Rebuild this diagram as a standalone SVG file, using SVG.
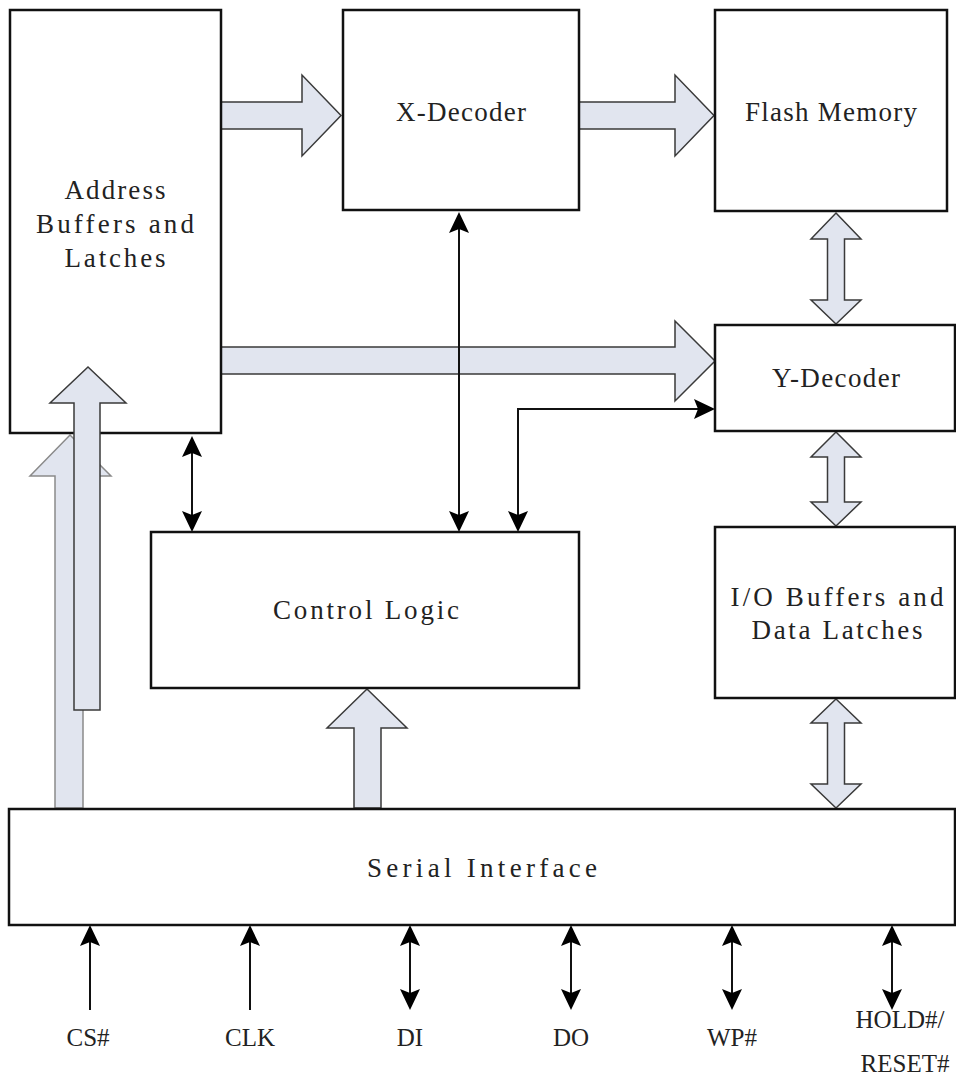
<svg xmlns="http://www.w3.org/2000/svg" width="956" height="1080" viewBox="0 0 956 1080">
<style>
.box{fill:#fff;stroke:#111;stroke-width:2.5}
.blk{fill:#e1e5ef;stroke:#3a3a3a;stroke-width:1.5;stroke-linejoin:miter}
.blk2{fill:#e1e5ef;stroke:#8a8a8a;stroke-width:1.5}
.ln{fill:none;stroke:#111;stroke-width:2}
.hd{fill:#000}
.t{font-family:"Liberation Serif","Times New Roman",serif;font-size:27px;fill:#222;text-anchor:middle}
.p{font-family:"Liberation Serif","Times New Roman",serif;font-size:25px;fill:#222;text-anchor:middle}
</style>
<defs>
<path id="ah" d="M0,0 L-10,21 L0,17 L10,21 Z"/>
</defs>
<rect width="956" height="1080" fill="#fff"/>
<g id="connectors">
<path class="blk2" d="M70,435 L111,476 H83 V808 H55 V476 H30 Z"/>
<path class="blk" d="M221,102 H302 V75 L341,115.5 L302,156 V129 H221 Z"/>
<path class="blk" d="M579,102 H675 V75 L714,115.5 L675,156 V129 H579 Z"/>
<path class="blk" d="M221,347 H675 V321 L715,361 L675,401 V374 H221 Z"/>
<path class="blk" d="M836,213 L861,239 H844.5 V300 H861 L836,324 L811,300 H827.5 V239 H811 Z"/>
<path class="blk" d="M836,432 L861,457 H844.5 V502 H861 L836,526 L811,502 H827.5 V457 H811 Z"/>
<path class="blk" d="M836,699 L861,723 H844.5 V784 H861 L836,808 L811,784 H827.5 V723 H811 Z"/>
<path class="blk" d="M367,689 L407,728 H381 V808 H354 V728 H327 Z"/>
<line class="ln" x1="192" y1="450" x2="192" y2="518"/>
<use href="#ah" class="hd" transform="translate(192,436)"/>
<use href="#ah" class="hd" transform="translate(192,532) rotate(180)"/>
<line class="ln" x1="459" y1="226" x2="459" y2="518"/>
<use href="#ah" class="hd" transform="translate(459,212)"/>
<use href="#ah" class="hd" transform="translate(459,532) rotate(180)"/>
<polyline class="ln" points="518,518 518,409 701,409"/>
<use href="#ah" class="hd" transform="translate(518,532) rotate(180)"/>
<use href="#ah" class="hd" transform="translate(715,409) rotate(90)"/>
<line class="ln" x1="90" y1="939" x2="90" y2="1010"/>
<use href="#ah" class="hd" transform="translate(90,925)"/>
<line class="ln" x1="250" y1="939" x2="250" y2="1010"/>
<use href="#ah" class="hd" transform="translate(250,925)"/>
<line class="ln" x1="410" y1="939" x2="410" y2="996"/>
<use href="#ah" class="hd" transform="translate(410,925)"/>
<use href="#ah" class="hd" transform="translate(410,1010) rotate(180)"/>
<line class="ln" x1="571" y1="939" x2="571" y2="996"/>
<use href="#ah" class="hd" transform="translate(571,925)"/>
<use href="#ah" class="hd" transform="translate(571,1010) rotate(180)"/>
<line class="ln" x1="732" y1="939" x2="732" y2="996"/>
<use href="#ah" class="hd" transform="translate(732,925)"/>
<use href="#ah" class="hd" transform="translate(732,1010) rotate(180)"/>
<line class="ln" x1="892" y1="939" x2="892" y2="996"/>
<use href="#ah" class="hd" transform="translate(892,925)"/>
<use href="#ah" class="hd" transform="translate(892,1010) rotate(180)"/>
</g>
<g id="address-buffers">
<rect class="box" x="10" y="10" width="211" height="423"/>
<text class="t" x="115" y="199" textLength="101" lengthAdjust="spacing">Address</text>
<text class="t" x="115" y="233" textLength="158" lengthAdjust="spacing">Buffers and</text>
<text class="t" x="115" y="267" textLength="101" lengthAdjust="spacing">Latches</text>
</g>
<g id="address-input-arrow">
<path class="blk" d="M88,367 L126,403 H100 V710 H74 V403 H50 Z"/>
</g>
<g id="x-decoder">
<rect class="box" x="343" y="10" width="236" height="200"/>
<text class="t" x="461" y="121" textLength="130" lengthAdjust="spacing">X-Decoder</text>
</g>
<g id="flash-memory">
<rect class="box" x="715" y="10" width="232" height="201"/>
<text class="t" x="831" y="121" textLength="172" lengthAdjust="spacing">Flash Memory</text>
</g>
<g id="y-decoder">
<rect class="box" x="715" y="325" width="240" height="106"/>
<text class="t" x="836" y="387" textLength="128" lengthAdjust="spacing">Y-Decoder</text>
</g>
<g id="io-buffers">
<rect class="box" x="715" y="527" width="240" height="171"/>
<text class="t" x="837" y="606" textLength="213" lengthAdjust="spacing">I/O Buffers and</text>
<text class="t" x="837" y="639" textLength="171" lengthAdjust="spacing">Data Latches</text>
</g>
<g id="control-logic">
<rect class="box" x="151" y="532" width="428" height="156"/>
<text class="t" x="366" y="619" textLength="186" lengthAdjust="spacing">Control Logic</text>
</g>
<g id="serial-interface">
<rect class="box" x="9" y="809" width="946" height="116"/>
<text class="t" x="482" y="877" textLength="230" lengthAdjust="spacing">Serial Interface</text>
</g>
<g id="pins">
<text class="p" x="88" y="1046">CS#</text>
<text class="p" x="250" y="1046">CLK</text>
<text class="p" x="410" y="1046">DI</text>
<text class="p" x="571" y="1046">DO</text>
<text class="p" x="732" y="1046">WP#</text>
<text class="p" x="900" y="1028">HOLD#/</text>
<text class="p" x="905" y="1072">RESET#</text>
</g>
</svg>
